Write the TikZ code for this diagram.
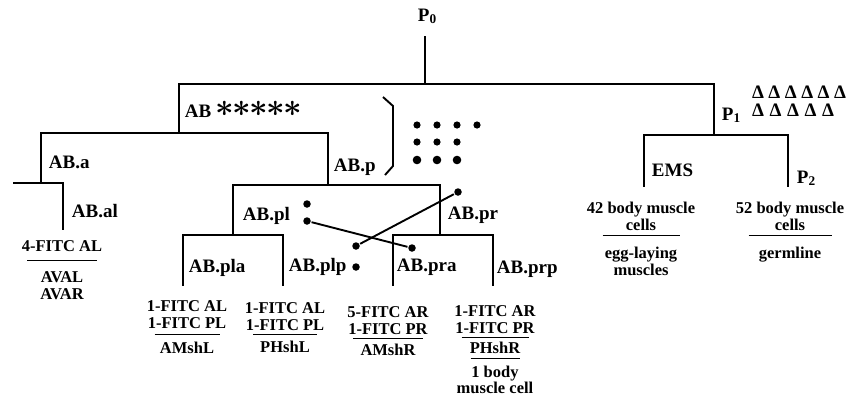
\documentclass[tikz,border=0pt]{standalone}
\usepackage{fontspec}
\setmainfont{Liberation Serif}
\usepackage{tikz}

\begin{document}
\begin{tikzpicture}[
    x=1pt, y=-1pt, line width=1.9pt,
    lbl/.style={font=\fontsize{19}{19}\selectfont\bfseries, inner sep=0, anchor=base west},
    leaf/.style={font=\fontsize{16.5}{17}\selectfont\bfseries, inner sep=0, align=center, anchor=north},
    dot/.style={circle, fill, inner sep=0, minimum size=7.5pt},
    astx/.style={font=\fontsize{30}{30}\selectfont\boldmath, inner sep=0},
    tri/.style={font=\fontsize{19}{19}\selectfont\bfseries, inner sep=0}
]
\useasboundingbox (0,0) rectangle (847,397);

% branch points
\coordinate (P0top) at (425,36);
\coordinate (P0) at (425,84);
\coordinate (AB) at (179,133);
\coordinate (P1) at (714,135);
\coordinate (ABa) at (41,183);
\coordinate (ABp) at (328,185);
\coordinate (ABaa) at (13,183);
\coordinate (ABal) at (63,230);
\coordinate (ABpl) at (233,235);
\coordinate (ABpr) at (440,235);
\coordinate (ABpla) at (183,286);
\coordinate (ABplp) at (283,286);
\coordinate (ABpra) at (393,286);
\coordinate (ABprp) at (493,286);
\coordinate (EMS) at (644,187);
\coordinate (P2) at (788,187);

% lineage
\draw (P0top) -- (P0);
\draw (P0) -| (AB);
\draw (P0) -| (P1);
\draw (AB) -| (ABa);
\draw (AB) -| (ABp);
\draw (ABa) -- (ABaa);
\draw (ABa) -| (ABal);
\draw (ABp) -| (ABpl);
\draw (ABp) -| (ABpr);
\draw (ABpl) -| (ABpla);
\draw (ABpl) -| (ABplp);
\draw (ABpr) -| (ABpra);
\draw (ABpr) -| (ABprp);
\draw (P1) -| (EMS);
\draw (P1) -| (P2);

% cell names
\node[lbl] (lP0) at (417,21) {P\textsubscript{0}};
\node[lbl] (lAB) at (184,117) {AB};
\node[lbl] (lABa) at (48,168) {AB.a};
\node[lbl] (lABp) at (333,171) {AB.p};
\node[lbl] (lABal) at (71,217) {AB.al};
\node[lbl] (lABpl) at (242,220) {AB.pl};
\node[lbl] (lABpr) at (447,219) {AB.pr};
\node[lbl] (lABpla) at (188,272) {AB.pla};
\node[lbl] (lABplp) at (288,271) {AB.plp};
\node[lbl] (lABpra) at (396,271) {AB.pra};
\node[lbl] (lABprp) at (496,273) {AB.prp};
\node[lbl] (lP1) at (721,120) {P\textsubscript{1}};
\node[lbl] (lEMS) at (651,176) {EMS};
\node[lbl] (lP2) at (796,183) {P\textsubscript{2}};

% markers
\foreach \i in {0,...,4}
    \node[astx] (s\i) at (225+17*\i,109) {\scalebox{1.3}{$\ast$}};
\foreach \i in {0,...,5}
    \node[tri] (ta\i) at (758+16.4*\i,92) {Δ};
\foreach \i in {0,...,4}
    \node[tri] (tb\i) at (758+17.5*\i,110) {Δ};

\draw (383,97) -- (393,106) -- (393,166) -- (385,175);
\foreach \x in {417,437,457,477}
    \fill (\x,125) circle (3.6pt);
\foreach \x in {417,437,457}
    \fill (\x,142) circle (3.6pt);
\foreach \x in {417,437,457}
    \fill (\x,160) circle (4.3pt);

% crossing
\node[dot] (plA) at (307,204) {};
\node[dot] (plB) at (307,221) {};
\node[dot] (praA) at (412,248) {};
\node[dot] (plpA) at (356,246) {};
\node[dot] (plpB) at (356,267) {};
\node[dot] (prA) at (458,192) {};
\draw (plB) -- (praA);
\draw (plpA) -- (prA);

% fates
\node[leaf] (cAL) at (62,239.8) {4-FITC AL\\[-7.4pt]\rule{70pt}{1.3pt}\\[4.4pt]AVAL\\AVAR};
\node[leaf] (cAMshL) at (187,299.8) {1-FITC AL\\1-FITC PL\\[-10.4pt]\rule{65pt}{1.3pt}\\[1.4pt]AMshL};
\node[leaf] (cPHshL) at (285,301.3) {1-FITC AL\\1-FITC PL\\[-11.9pt]\rule{64pt}{1.3pt}\\[0.4pt]PHshL};
\node[leaf] (cAMshR) at (388,305.8) {5-FITC AR\\1-FITC PR\\[-12.4pt]\rule{70pt}{1.3pt}\\[-0.6pt]AMshR};
\node[leaf] (cPHshR) at (495,304.8) {1-FITC AR\\1-FITC PR\\[-12.4pt]\rule{67pt}{1.3pt}\\[-1.6pt]PHshR\\[-11.4pt]\rule{49pt}{1.3pt}\\[1.4pt]1 body\\[-1.5pt]muscle cell};
\node[leaf] (c42) at (641,200.8) {42 body muscle\\cells\\[-11.4pt]\rule{77pt}{1.3pt}\\[5.4pt]egg-laying\\muscles};
\node[leaf] (c52) at (790,200.8) {52 body muscle\\cells\\[-11.4pt]\rule{83pt}{1.3pt}\\[5.4pt]germline};
\end{tikzpicture}
\end{document}
